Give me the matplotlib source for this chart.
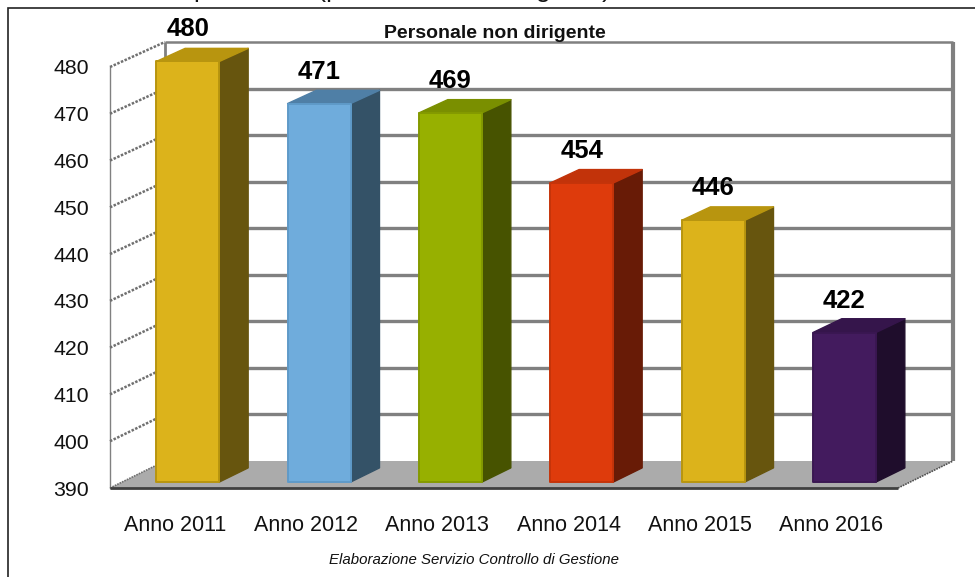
import matplotlib
matplotlib.use("Agg")
import matplotlib.pyplot as plt
from matplotlib.transforms import Affine2D
from matplotlib.patches import Rectangle

plt.rcParams['font.family'] = ['Liberation Sans', 'DejaVu Sans']

# data
years = ['Anno 2011', 'Anno 2012', 'Anno 2013', 'Anno 2014', 'Anno 2015', 'Anno 2016']
values = [480, 471, 469, 454, 446, 422]
y_ticks = [390, 400, 410, 420, 430, 440, 450, 460, 470, 480]
front_col = ['#dcb31b', '#6facdc', '#97b000', '#de3b0c', '#dcb31b', '#431b5e']
side_col = ['#67550e', '#345267', '#475300', '#681b06', '#67550e', '#1f0d2c']
top_col = ['#b8950f', '#4f7fa6', '#7a8f00', '#c2330a', '#b8950f', '#35154b']
edge_col = ['#b8950f', '#5f9ac8', '#849a00', '#c5340a', '#b8950f', '#3a1752']

W, H = 975, 577
fig = plt.figure(figsize=(W / 100, H / 100), dpi=100)
ax = fig.add_axes([110 / W, 1 - 488 / H, 788 / W, 421 / H])
ax.set_xlim(0, 6)
ax.set_ylim(390, 480)
ax.axis('off')


# shift in pixels for a given depth (0 front, 1 back wall), back wall is a bit shorter
def depth(d):
    y0 = H - 488
    return ax.transData + (Affine2D().translate(0, -y0).scale(1, 1 - 0.0047 * d)
                           .translate(55 * d, y0 + 27 * d))


def depth_pts(xs, ys, d):
    # points of the plane at depth d, in display pixels
    return depth(d).transform(list(zip(xs, ys)))


def poly(points, **kw):
    ax.add_patch(plt.Polygon(points, transform=None, clip_on=False, **kw))


# side wall and floor
poly(list(depth_pts([0, 6], [390, 390], 0)) + list(depth_pts([6, 0], [390, 390], 1)),
     facecolor='#ababab', edgecolor='none', zorder=1)
ax.plot([0, 0], [390, 480], color='#808080', lw=1, transform=depth(0), clip_on=False, zorder=1)
ax.plot([0, 0], [390, 480], color='#808080', lw=2, transform=depth(1), clip_on=False, zorder=1,
        solid_capstyle='butt')
ax.plot([6, 6], [390, 480], color='#808080', lw=3, transform=depth(1), clip_on=False, zorder=1,
        solid_capstyle='butt')
ax.plot([0, 6], [390, 390], color='#404040', lw=2, clip_on=False, zorder=6, solid_capstyle='butt')

for t in y_ticks:
    # back wall gridline
    if t > 390:
        ax.plot([0, 6], [t, t], color='#808080', lw=2.4 if t < 480 else 1.8,
                transform=depth(1), clip_on=False, zorder=2, solid_capstyle='butt')
    # dotted tick on the left wall
    p = depth_pts([0, 0], [t, t], 0)[0], depth_pts([0, 0], [t, t], 1)[0]
    poly(list(p), closed=False, fill=False, edgecolor='#707070', lw=1.8 if t > 390 else 1.2,
         linestyle=(0, (1, 0.6)), zorder=2)
    ax.text(-0.16, t, str(t), ha='right', va='center', fontsize=15.3, color='#111111', clip_on=False,
            transform=ax.transData + Affine2D().translate(0, -2))
# right side floor edge
poly([depth_pts([6], [390], 0)[0], depth_pts([6], [390], 1)[0]], closed=False, fill=False,
     edgecolor='#505050', lw=1.2, linestyle=(0, (1, 0.6)), zorder=2)

bar_w = 0.48
d0, d1 = 0.22, 0.745
for i, v in enumerate(values):
    x0 = i + 0.5 - bar_w / 2
    x1 = x0 + bar_w
    ax.bar(i + 0.5, v - 390, bottom=390, width=bar_w, color=front_col[i], edgecolor=edge_col[i],
           lw=1.4, joinstyle='round', transform=depth(d0), clip_on=False, zorder=5)
    # right side face
    poly(list(depth_pts([x1, x1], [390, v], d0)) + list(depth_pts([x1, x1], [v, 390], d1)),
         facecolor=side_col[i], edgecolor=side_col[i], lw=1, joinstyle='round', zorder=4)
    # top face
    poly(list(depth_pts([x0, x1], [v, v], d0)) + list(depth_pts([x1, x0], [v, v], d1)),
         facecolor=top_col[i], edgecolor=top_col[i], lw=1, joinstyle='round', zorder=4)
    ax.text(i + 0.5, v, str(v), ha='center', va='bottom', fontsize=18.5, fontweight='bold',
            transform=depth(d0) + Affine2D().translate(0, 20), clip_on=False, zorder=7)
    ax.text(i + 0.5, 390, years[i], ha='center', va='top', fontsize=15.5, color='#111111',
            transform=ax.transData + Affine2D().translate(-1, -27), clip_on=False)

# outer frame
fig.add_artist(Rectangle((8 / W, -0.01), 1.02, 1 - 8 / H + 0.01, transform=fig.transFigure,
                         fill=False, edgecolor='#222222', lw=1.2))

# page heading cut off by the image border, only the descenders show
fig.text(194 / W, 1 + 3 / H, 'personale (personale non dirigente)', ha='left', va='baseline',
         fontsize=19, color='#111111')
fig.text(495 / W, 1 - 33 / H, 'Personale non dirigente', ha='center', va='center', fontsize=14,
         fontweight='bold', color='#111111')
fig.text(474 / W, 1 - 560 / H, 'Elaborazione Servizio Controllo di Gestione', ha='center', va='center',
         fontsize=10.8, style='italic', color='#111111')

fig.savefig('out.png', dpi=100)
